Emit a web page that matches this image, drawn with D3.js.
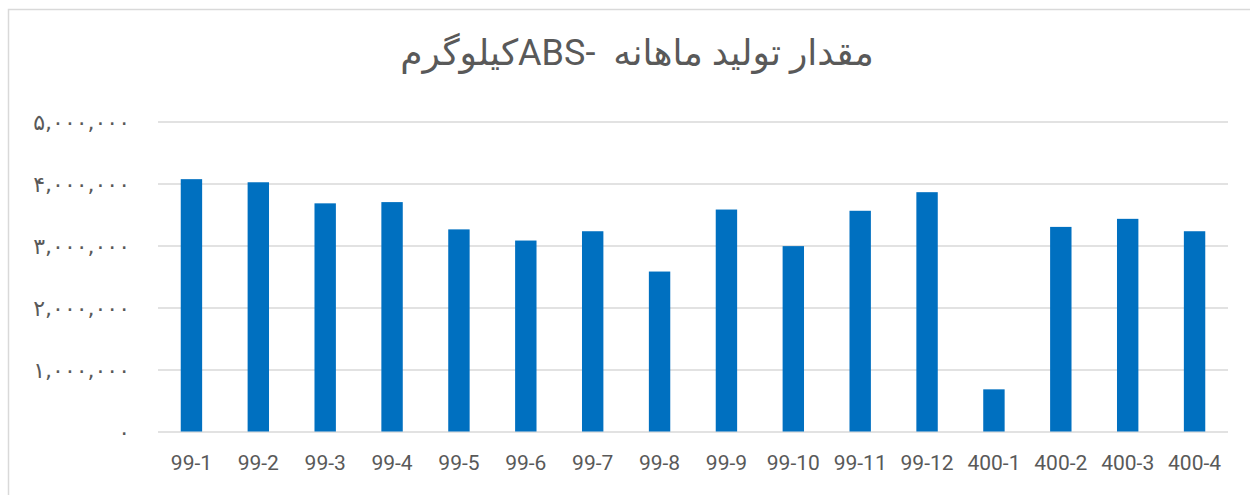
<!DOCTYPE html>
<html>
<head>
<meta charset="utf-8">
<script src="https://cdn.jsdelivr.net/npm/d3@7"></script>
<style>
  html, body { margin: 0; padding: 0; background: #fff; }
  svg { display: block; }
</style>
</head>
<body>
<svg id="chart" width="1250" height="495"></svg>
<script>
const titleText = "مقدار تولید ماهانه  -ABSکیلوگرم";
const categories = ["99-1","99-2","99-3","99-4","99-5","99-6","99-7","99-8","99-9","99-10","99-11","99-12","400-1","400-2","400-3","400-4"];
const values = [4070000, 4020000, 3680000, 3700000, 3260000, 3080000, 3230000, 2580000, 3580000, 2990000, 3560000, 3860000, 680000, 3300000, 3430000, 3230000];
const yTicks = [0, 1000000, 2000000, 3000000, 4000000, 5000000];

const svg = d3.select("#chart");
const W = 1250, H = 495;
const plot = {left: 158, right: 1228, top: 121.5, bottom: 431.5};

// chart area border
svg.append("rect")
  .attr("x", 8.5).attr("y", 9.5)
  .attr("width", W + 20).attr("height", H + 20)
  .attr("fill", "#fff").attr("stroke", "#d9d9d9").attr("stroke-width", 1.5);

const x = d3.scaleBand().domain(categories).range([plot.left, plot.right])
  .paddingInner(0.68).paddingOuter(0.34);
const y = d3.scaleLinear().domain([0, 5000000]).range([plot.bottom, plot.top]);

const toPersian = s => s.replace(/[0-9]/g, d => "۰۱۲۳۴۵۶۷۸۹"[+d]);
const fmt = d3.format(",");

// gridlines
const yAxis = d3.axisLeft(y).tickValues(yTicks).tickSize(-(plot.right - plot.left))
  .tickFormat(d => toPersian(fmt(d))).tickPadding(28);
const gy = svg.append("g").attr("transform", `translate(${plot.left},0)`).call(yAxis);
gy.select(".domain").remove();
gy.selectAll(".tick line").attr("stroke", "#d9d9d9").attr("stroke-width", 1.3);
gy.selectAll(".tick text")
  .attr("fill", "#595959")
  .attr("font-family", "'DejaVu Sans', sans-serif")
  .attr("font-size", 22)
  .attr("dy", "0.35em");

// bars
svg.append("g").selectAll("rect").data(values).join("rect")
  .attr("x", (d, i) => x(categories[i]))
  .attr("width", x.bandwidth())
  .attr("y", d => y(d))
  .attr("height", d => y(0) - y(d))
  .attr("fill", "#0070c0");

// x axis labels
const xAxis = d3.axisBottom(x).tickSize(0).tickPadding(0);
const gx = svg.append("g").attr("transform", `translate(0,${plot.bottom})`).call(xAxis);
gx.select(".domain").remove();
gx.selectAll(".tick text")
  .attr("fill", "#595959")
  .attr("font-family", "Roboto, sans-serif")
  .attr("font-size", 21)
  .attr("y", 38)
  .attr("dy", 0);

// title
svg.append("text")
  .attr("x", 637).attr("y", 65)
  .attr("text-anchor", "middle")
  .attr("direction", "rtl")
  .style("white-space", "pre")
  .attr("fill", "#595959")
  .attr("font-family", "Roboto, 'DejaVu Sans', sans-serif")
  .attr("font-size", 36)
  .text(titleText);
</script>
</body>
</html>
